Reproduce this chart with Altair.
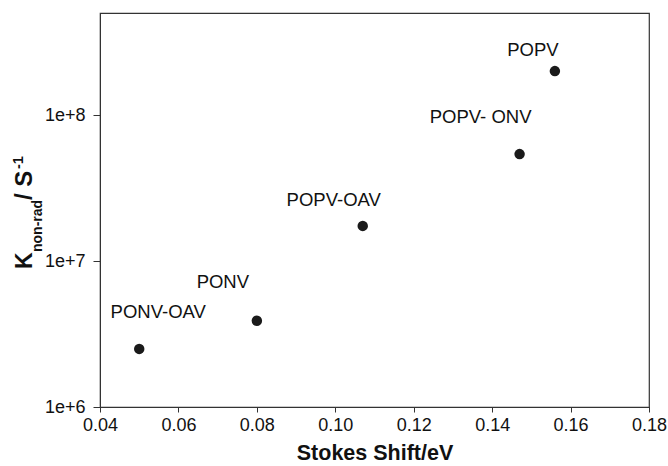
import altair as alt
import pandas as pd

# ---- data ----
names = ["PONV-OAV", "PONV", "POPV-OAV", "POPV- ONV", "POPV"]
stokes_shift = [0.050, 0.080, 0.107, 0.147, 0.156]
k_nonrad = [2.5e6, 3.9e6, 1.74e7, 5.4e7, 2.0e8]

x_ticks = [0.04, 0.06, 0.08, 0.10, 0.12, 0.14, 0.16, 0.18]
y_ticks = [1e6, 1e7, 1e8]

df = pd.DataFrame({"name": names, "x": stokes_shift, "y": k_nonrad})

# ---- style ----
FONT = "Liberation Sans"
W, H = 549, 394
label_offsets = [(19, -37), (-34, -39), (-29, -26), (-39, -37), (-22, -21)]

xs = alt.Scale(domain=[0.04, 0.18], nice=False, zero=False)
ys = alt.Scale(type="log", domain=[1e6, 5e8], nice=False)

points = alt.Chart(df).mark_point(
    filled=True, size=110, color="#1a1a1a", opacity=1, shape="circle"
).encode(
    x=alt.X("x:Q", scale=xs, axis=alt.Axis(
        values=x_ticks, format=".2f", title="Stokes Shift/eV",
        grid=False, tickSize=5, labelPadding=4, titlePadding=8,
        labelFontSize=18, titleFontSize=21.5, titleFontWeight="bold",
        labelFont=FONT, titleFont=FONT, labelColor="#111", titleColor="#111",
        domainColor="#333", tickColor="#333", labelFlush=False)),
    y=alt.Y("y:Q", scale=ys, axis=alt.Axis(
        values=y_ticks, labelExpr="'1e+' + round(log(datum.value)/LN10)",
        title=None, grid=False, tickSize=7, labelPadding=8,
        labelFontSize=18, labelFont=FONT, labelColor="#111",
        domainColor="#333", tickColor="#333")),
)

layers = [points]
for i, (dx, dy) in enumerate(label_offsets):
    layers.append(
        alt.Chart(df.iloc[[i]]).mark_text(
            dx=dx, dy=dy, fontSize=18.5, font=FONT, color="#111",
            align="center", baseline="middle"
        ).encode(x=alt.X("x:Q", scale=xs), y=alt.Y("y:Q", scale=ys), text="name:N")
    )

# y-axis title built from pieces (subscript / superscript)
title_parts = [
    ("K", 23, -68, 269),
    ("non-rad", 14, -58, 252),
    ("/ S", 24, -68, 200),
    ("-1", 14.5, -77, 169),
]
for txt, fs, xpos, ypos in title_parts:
    layers.append(
        alt.Chart(pd.DataFrame({"t": [txt]})).mark_text(
            angle=270, align="left", baseline="alphabetic", fontSize=fs,
            fontWeight="bold", font=FONT, color="#111"
        ).encode(x=alt.value(xpos), y=alt.value(ypos - 13), text="t:N")
    )

chart = alt.layer(*layers).properties(
    width=W, height=H,
    autosize=alt.AutoSizeParams(type="none"),
    padding={"left": 100, "top": 13, "right": 19, "bottom": 59},
).configure_view(stroke="#333", strokeWidth=1.2)

chart.save("out.html", embed_options={"renderer": "svg", "actions": False})
